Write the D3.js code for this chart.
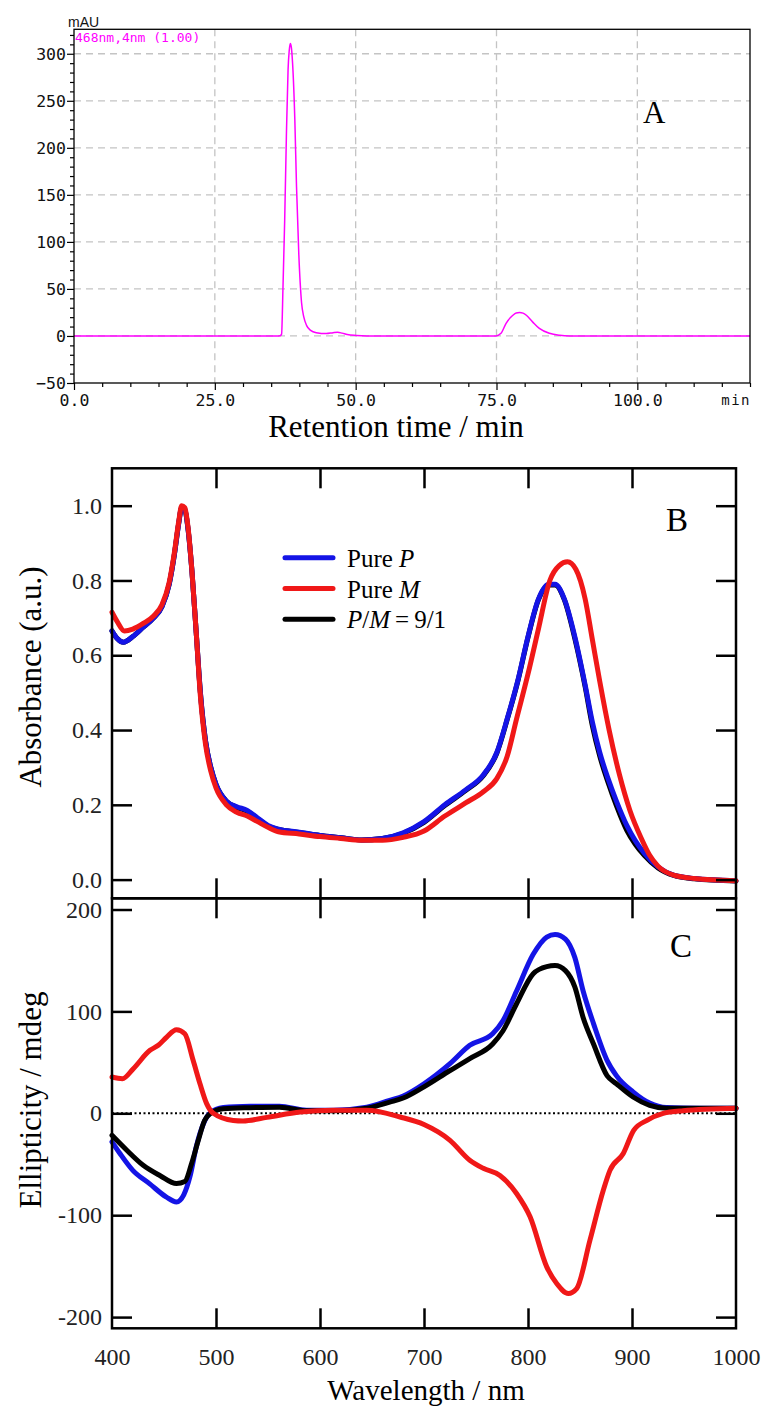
<!DOCTYPE html>
<html>
<head>
<meta charset="utf-8">
<script src="https://cdn.jsdelivr.net/npm/d3@7"></script>
<style>
  body { margin: 0; background: #fff; }
</style>
</head>
<body>
<svg id="fig" width="763" height="1411"></svg>
<script>
const MONO = "'DejaVu Sans Mono', 'Liberation Mono', monospace";
const SERIF = "'Liberation Serif', 'Times New Roman', serif";

// ---- panel A: chromatogram (468 nm) ----
const chromTime = [0, 10, 20, 30, 36.0, 36.6, 36.85, 37.1, 37.4, 37.7, 38.0, 38.2, 38.4, 38.6, 38.8, 39.2, 39.5, 39.9, 40.4, 40.8, 41.3, 42.0, 43.0, 44.8, 46.0, 46.8, 47.6, 48.5, 50.1, 52, 60, 70, 74.9, 75.8, 76.7, 77.9, 78.5, 79.1, 79.7, 80.3, 81.4, 82.6, 84.4, 86.2, 88, 100, 120];
const chromSignal = [0, 0, 0, 0, 0, 0.3, 2, 52, 123, 212, 283, 303, 311, 306, 290, 230, 159, 88, 35, 20, 11, 6, 3.5, 2.5, 3.5, 3.9, 3.0, 1.5, 0.5, 0, 0, 0, 0, 2.8, 13.4, 22, 24.5, 25, 24.3, 22, 15, 8, 2.8, 0.7, 0, 0, 0];
const chromXTicks = [0, 25, 50, 75, 100];
const chromYTicks = [-50, 0, 50, 100, 150, 200, 250, 300];

// ---- panel B: absorbance ----
const wlAbsP = [400, 405, 411, 420, 430, 440, 448, 455, 460, 464, 467, 470, 473, 477, 481, 485, 490, 495, 500, 510, 520, 530, 540, 550, 560, 580, 600, 620, 640, 660, 680, 700, 720, 740, 757, 770, 780, 790, 800, 810, 820, 826, 835, 845, 855, 862, 869, 877, 885, 895, 903, 912, 925, 940, 960, 1000];
const absP = [0.665, 0.645, 0.635, 0.65, 0.675, 0.70, 0.73, 0.79, 0.87, 0.95, 0.995, 0.99, 0.94, 0.82, 0.66, 0.50, 0.37, 0.30, 0.255, 0.21, 0.195, 0.185, 0.165, 0.145, 0.135, 0.127, 0.118, 0.112, 0.106, 0.11, 0.125, 0.155, 0.20, 0.24, 0.28, 0.34, 0.43, 0.53, 0.65, 0.75, 0.79, 0.79, 0.75, 0.65, 0.52, 0.42, 0.34, 0.27, 0.21, 0.145, 0.105, 0.07, 0.034, 0.012, 0.003, -0.003];
const absMix = [0.665, 0.645, 0.635, 0.65, 0.675, 0.70, 0.73, 0.79, 0.87, 0.95, 0.995, 0.99, 0.94, 0.82, 0.66, 0.50, 0.37, 0.30, 0.255, 0.21, 0.193, 0.183, 0.163, 0.143, 0.134, 0.126, 0.118, 0.112, 0.106, 0.11, 0.124, 0.153, 0.198, 0.238, 0.278, 0.338, 0.428, 0.528, 0.648, 0.748, 0.788, 0.788, 0.748, 0.645, 0.515, 0.41, 0.33, 0.26, 0.198, 0.132, 0.095, 0.064, 0.031, 0.011, 0.002, -0.004];
const wlAbsM = [400, 405, 412, 420, 430, 440, 448, 455, 460, 464, 467, 470, 473, 477, 481, 485, 490, 495, 500, 510, 520, 530, 540, 550, 560, 580, 600, 620, 640, 660, 680, 700, 720, 740, 757, 770, 780, 789, 800, 810, 821, 830, 838, 846, 855, 862, 869, 878, 888, 898, 909, 917, 925, 940, 960, 1000];
const absM = [0.715, 0.69, 0.665, 0.67, 0.685, 0.705, 0.735, 0.795, 0.875, 0.955, 1.0, 0.995, 0.945, 0.82, 0.66, 0.49, 0.36, 0.29, 0.245, 0.20, 0.18, 0.17, 0.155, 0.14, 0.128, 0.122, 0.115, 0.11, 0.105, 0.105, 0.113, 0.13, 0.17, 0.205, 0.235, 0.27, 0.33, 0.43, 0.55, 0.67, 0.80, 0.84, 0.85, 0.83, 0.75, 0.64, 0.53, 0.40, 0.28, 0.185, 0.11, 0.065, 0.036, 0.012, 0.003, -0.003];
const absTicks = [0, 0.2, 0.4, 0.6, 0.8, 1.0];

// ---- panel C: CD ----
const wlCdP = [400, 408, 420, 436, 452, 462, 469, 475, 481, 488, 494, 507, 533, 561, 587, 613, 645, 667, 680, 700, 725, 744, 766, 776, 789, 805, 818, 826, 836, 845, 853, 863, 876, 885, 901, 917, 933, 965, 1000];
const cdP = [-28, -40, -56, -69, -82, -87, -80, -62, -33, -10, 0, 5.6, 6.8, 7, 3, 3, 6, 12.7, 17, 29, 48.7, 66.7, 78, 91, 120, 156, 173, 175.5, 171, 153, 120, 88, 52, 37, 21, 10, 5.6, 5, 5];
const wlCdMix = [400, 414, 430, 446, 462, 470, 476.6, 483, 489, 495, 507, 533, 561, 587, 613, 645, 667, 680, 700, 725, 744, 766, 776, 789, 805, 818, 826, 836, 845, 853, 863, 876, 885, 901, 917, 933, 1000];
const cdMix = [-21.6, -36, -51, -61, -69, -67, -49, -26.5, -7, 0, 4.5, 5.5, 6, 2.5, 2.5, 5, 11, 15, 26, 42, 53.6, 68, 81, 107.5, 137, 144, 145, 140, 124, 94, 68, 37, 29, 16, 7.8, 5, 5];
const wlCdM = [400, 410, 420.5, 436.5, 444.5, 452.6, 462, 470, 478, 484.6, 491, 497.4, 516.6, 526, 549, 581, 613, 645, 677, 700, 725, 744, 757, 773, 789, 802, 818, 827.6, 838.8, 846.8, 859.6, 872.4, 878.8, 891.6, 901.6, 914.4, 930, 949, 1000];
const cdM = [35.6, 34, 43.8, 61.8, 66.7, 74.8, 82, 78, 52, 29, 9.5, 0, -7, -7.5, -4, 1.3, 3, 3, -3.6, -11, -26.5, -46, -54, -61, -78.7, -101.6, -150.7, -167, -176.8, -172, -124.5, -75.5, -56, -39.5, -16.7, -6.9, 0, 2.6, 5];
const cdTicks = [-200, -100, 0, 100, 200];
const wlTicks = [400, 500, 600, 700, 800, 900, 1000];

const svg = d3.select("#fig");

// ================= panel A =================
const xA = d3.scaleLinear().domain([0, 120]).range([74, 750]);
const yA = d3.scaleLinear().domain([-50, 326]).range([383, 29.3]);

const gA = svg.append("g");

// dashed grid
gA.selectAll(".gx").data(chromXTicks.filter(d => d > 0)).enter().append("line")
  .attr("x1", d => xA(d)).attr("x2", d => xA(d))
  .attr("y1", yA(326)).attr("y2", yA(-50))
  .attr("stroke", "#c4c4c4").attr("stroke-width", 1.3).attr("stroke-dasharray", "7,5");
gA.selectAll(".gy").data(chromYTicks.filter(d => d > -50)).enter().append("line")
  .attr("x1", xA(0)).attr("x2", xA(120))
  .attr("y1", d => yA(d)).attr("y2", d => yA(d))
  .attr("stroke", "#c4c4c4").attr("stroke-width", 1.3).attr("stroke-dasharray", "7,5");

// trace
const lineA = d3.line().x((d, i) => xA(chromTime[i])).y(d => yA(d)).curve(d3.curveMonotoneX);
gA.append("path").datum(chromSignal).attr("d", lineA)
  .attr("fill", "none").attr("stroke", "#ff00ff").attr("stroke-width", 1.5);

// frame
gA.append("rect").attr("x", xA(0)).attr("y", yA(326))
  .attr("width", xA(120) - xA(0)).attr("height", yA(-50) - yA(326))
  .attr("fill", "none").attr("stroke", "#000").attr("stroke-width", 1.3);

// axes
const minorY = d3.range(-50, 321, 10).filter(d => d % 50 != 0);
const minorX = d3.range(0, 121, 5).filter(d => d % 25 != 0);

gA.append("g").attr("transform", `translate(${xA(0)},0)`)
  .call(d3.axisLeft(yA).tickValues(chromYTicks).tickSize(7).tickPadding(1));
gA.append("g").attr("transform", `translate(${xA(0)},0)`)
  .call(d3.axisLeft(yA).tickValues(minorY).tickSize(4).tickFormat(""));
gA.append("g").attr("transform", `translate(0,${yA(-50)})`)
  .call(d3.axisBottom(xA).tickValues(chromXTicks).tickSize(7).tickPadding(4).tickFormat(d3.format(".1f")));
gA.append("g").attr("transform", `translate(0,${yA(-50)})`)
  .call(d3.axisBottom(xA).tickValues(minorX).tickSize(4).tickFormat(""));
gA.selectAll(".domain").remove();
gA.selectAll(".tick line").attr("stroke", "#000").attr("stroke-width", 1.2);
gA.selectAll(".tick text").style("font-family", MONO).style("font-size", "16.5px").attr("fill", "#111");

gA.append("text").attr("x", 68).attr("y", 27)
  .style("font-family", "'Liberation Sans', Arial, sans-serif").style("font-size", "14px").attr("fill", "#111").text("mAU");
gA.append("text").attr("x", 751).attr("y", 405)
  .attr("text-anchor", "end").style("font-family", MONO).style("font-size", "14px")
  .attr("letter-spacing", 1.5).attr("fill", "#111").text("min");
gA.append("text").attr("x", 75).attr("y", 42)
  .style("font-family", MONO).style("font-size", "13px").attr("fill", "#ff00ff").text("468nm,4nm (1.00)");
gA.append("text").attr("x", 643).attr("y", 123)
  .style("font-family", SERIF).style("font-size", "31px").text("A");
gA.append("text").attr("x", 396).attr("y", 437)
  .attr("text-anchor", "middle").style("font-family", SERIF).style("font-size", "31px").text("Retention time / min");

// ================= panels B & C =================
const x = d3.scaleLinear().domain([400, 1000]).range([112, 736]);
const yB = d3.scaleLinear().domain([-0.05, 1.1]).range([898.3, 468.3]);
const yC = d3.scaleLinear().domain([-211, 211]).range([1328.3, 898.3]);

const blue = "#1414e6", red = "#f01818", black = "#000";

const lineB = (wl) => d3.line().x((d, i) => x(wl[i])).y(d => yB(d)).curve(d3.curveMonotoneX);
const lineC = (wl) => d3.line().x((d, i) => x(wl[i])).y(d => yC(d)).curve(d3.curveMonotoneX);

function drawCurve(data, gen, color) {
  svg.append("path").datum(data).attr("d", gen)
    .attr("fill", "none").attr("stroke", color).attr("stroke-width", 5)
    .attr("stroke-linejoin", "round").attr("stroke-linecap", "round");
}

// zero line in C
svg.append("line").attr("x1", x(400)).attr("x2", x(1000))
  .attr("y1", yC(0)).attr("y2", yC(0))
  .attr("stroke", "#000").attr("stroke-width", 2).attr("stroke-dasharray", "2,2.5");

drawCurve(absMix, lineB(wlAbsP), black);
drawCurve(absP, lineB(wlAbsP), blue);
drawCurve(absM, lineB(wlAbsM), red);

drawCurve(cdP, lineC(wlCdP), blue);
drawCurve(cdMix, lineC(wlCdMix), black);
drawCurve(cdM, lineC(wlCdM), red);

// frames
[[yB, -0.05, 1.1], [yC, -211, 211]].forEach(([s, lo, hi]) => {
  svg.append("rect").attr("x", x(400)).attr("y", s(hi))
    .attr("width", x(1000) - x(400)).attr("height", s(lo) - s(hi))
    .attr("fill", "none").attr("stroke", "#000").attr("stroke-width", 2.5);
});

const innerX = wlTicks.slice(1, -1);
const axes = svg.append("g");
axes.append("g").attr("transform", `translate(0,${yB(1.1)})`)
  .call(d3.axisTop(x).tickValues(innerX).tickSize(-20).tickFormat(""));
axes.append("g").attr("transform", `translate(0,${yB(-0.05)})`)
  .call(d3.axisBottom(x).tickValues(innerX).tickSize(-20).tickFormat(""));
axes.append("g").attr("transform", `translate(0,${yC(211)})`)
  .call(d3.axisTop(x).tickValues(innerX).tickSize(-20).tickFormat(""));
axes.append("g").attr("transform", `translate(0,${yC(-211)})`)
  .call(d3.axisBottom(x).tickValues(wlTicks).tickSize(-20).tickPadding(20).tickFormat(d3.format("d")))
  .selectAll(".tick").filter(d => d == 400 || d == 1000).select("line").remove();

axes.append("g").attr("transform", `translate(${x(400)},0)`)
  .call(d3.axisLeft(yB).tickValues(absTicks).tickSize(-20).tickPadding(10).tickFormat(d3.format(".1f")));
axes.append("g").attr("transform", `translate(${x(1000)},0)`)
  .call(d3.axisRight(yB).tickValues(absTicks).tickSize(-20).tickFormat(""));
axes.append("g").attr("transform", `translate(${x(400)},0)`)
  .call(d3.axisLeft(yC).tickValues(cdTicks).tickSize(-20).tickPadding(10).tickFormat(d => String(d)));
axes.append("g").attr("transform", `translate(${x(1000)},0)`)
  .call(d3.axisRight(yC).tickValues(cdTicks).tickSize(-20).tickFormat(""));

axes.selectAll(".domain").remove();
axes.selectAll(".tick line").attr("stroke", "#000").attr("stroke-width", 2.5);
axes.selectAll(".tick text").style("font-family", SERIF).style("font-size", "24px").attr("fill", "#222");

// axis titles
svg.append("text").style("font-family", SERIF).style("font-size", "31px")
  .attr("transform", "translate(41,677) rotate(-90)").attr("text-anchor", "middle")
  .text("Absorbance (a.u.)");
svg.append("text").style("font-family", SERIF).style("font-size", "31px")
  .attr("transform", "translate(41,1100) rotate(-90)").attr("text-anchor", "middle")
  .text("Ellipticity / mdeg");
svg.append("text").style("font-family", SERIF).style("font-size", "29px")
  .attr("x", 426).attr("y", 1400).attr("text-anchor", "middle")
  .text("Wavelength / nm");

svg.append("text").style("font-family", SERIF).style("font-size", "33px").attr("x", 666).attr("y", 531).text("B");
svg.append("text").style("font-family", SERIF).style("font-size", "33px").attr("x", 670).attr("y", 957).text("C");

// legend
const legendRows = [
  { color: blue, parts: [["Pure ", "normal"], ["P", "italic"]] },
  { color: red, parts: [["Pure ", "normal"], ["M", "italic"]] },
  { color: black, parts: [["P", "italic"], ["/", "normal"], ["M", "italic"], ["\u2009=\u20099/1", "normal"]] }
];
const leg = svg.append("g");
legendRows.forEach((r, i) => {
  const yy = 557.7 + i * 30.8;
  leg.append("line").attr("x1", 285).attr("x2", 333).attr("y1", yy).attr("y2", yy)
    .attr("stroke", r.color).attr("stroke-width", 5).attr("stroke-linecap", "round");
  const t = leg.append("text").style("font-family", SERIF).style("font-size", "25px")
    .attr("x", 347).attr("y", yy + 9);
  r.parts.forEach(p => t.append("tspan").attr("font-style", p[1]).text(p[0]));
});
</script>
</body>
</html>
